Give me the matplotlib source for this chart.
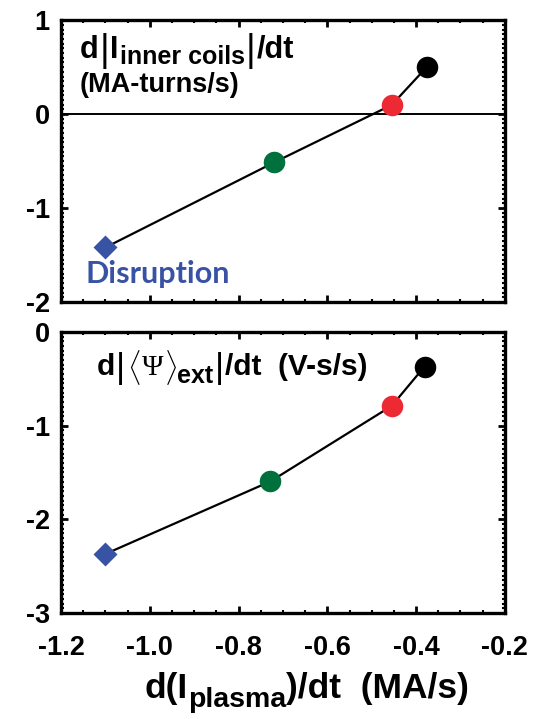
import numpy as np
import matplotlib
matplotlib.use('Agg')
import matplotlib.pyplot as plt
from matplotlib.ticker import MultipleLocator
from matplotlib.transforms import IdentityTransform

plt.rcParams['font.family'] = 'Liberation Sans'
plt.rcParams['font.weight'] = 'bold'

# d(Ip)/dt for the four cases, disruption first
x_coils = [-1.10, -0.72, -0.455, -0.376]
y_coils = [-1.42, -0.515, 0.097, 0.50]
x_flux = [-1.10, -0.728, -0.455, -0.381]
y_flux = [-2.37, -1.595, -0.79, -0.37]
colors = ['#3953a4', '#00703c', '#ed2a33', '#000000']
markers = ['D', 'o', 'o', 'o']
xticks = [-1.2, -1.0, -0.8, -0.6, -0.4, -0.2]
xticklabels = ['-1.2', '-1.0', '-0.8', '-0.6', '-0.4', '-0.2']

W, H = 542, 719
fig = plt.figure(figsize=(W / 100, H / 100), dpi=100)
ax1 = fig.add_axes([0.1125, 0.580, 0.819, 0.392])
ax2 = fig.add_axes([0.1125, 0.1474, 0.819, 0.391])
renderer = fig.canvas.get_renderer()

def style(ax, ylim, yticks):
	ax.set_xlim(-1.2, -0.2)
	ax.set_ylim(*ylim)
	ax.set_xticks(xticks)
	ax.set_yticks(yticks)
	ax.xaxis.set_minor_locator(MultipleLocator(0.05))
	ax.yaxis.set_minor_locator(MultipleLocator(0.05))
	for s in ax.spines.values():
		s.set_linewidth(2.4)
	ax.tick_params(which='both', direction='in', top=True, right=True, width=2.0)
	ax.tick_params(which='major', length=5, labelsize=19.5)
	ax.tick_params(axis='y', which='major', pad=8)
	ax.tick_params(axis='x', which='major', pad=16)
	ax.tick_params(which='minor', length=2.5, width=1.5)
	ax.set_yticklabels([str(t) for t in yticks])

def draw(ax, xs, ys):
	ax.plot(xs, ys, color='black', lw=1.6, zorder=2)
	for x, y, c, m in zip(xs, ys, colors, markers):
		ms = 12.5 if m == 'D' else 15.5
		ax.plot(x, y, marker=m, color=c, ms=ms, mec='none', zorder=3)

def rich(x, base, parts):
	# lay text pieces left to right in pixel coords; base is measured from the top
	for s, size, dy, gap, kw in parts:
		t = fig.text(x, H - (base + dy), s, fontsize=size, ha='left', va='baseline',
			transform=IdentityTransform(), **kw)
		x = t.get_window_extent(renderer).x1 + gap

style(ax1, (-2, 1), [-2, -1, 0, 1])
ax1.set_xticklabels([])
ax1.axhline(0, color='black', lw=1.4, zorder=1)
draw(ax1, x_coils, y_coils)

style(ax2, (-3, 0), [-3, -2, -1, 0])
ax2.set_xticklabels(xticklabels)
draw(ax2, x_flux, y_flux)

bold = {'fontweight': 'bold'}
bar = {'fontweight': 'normal'}
rich(80, 58, [
	('d', 22, 0, 1, bold),
	('|', 27, 3, 1, bar),
	('I', 22, 0, 1, bold),
	('inner coils', 18, 6, 1, bold),
	('|', 27, 3, 1, bar),
	('/dt', 22, 0, 0, bold),
])
rich(80, 92, [('(MA-turns/s)', 19.5, 0, 0, bold)])
rich(85, 283, [('Disruption', 22, 0, 0, {'fontweight': 'bold', 'family': 'Lato', 'color': '#3953a4'})])

rich(97, 375, [
	('d', 21.5, 0, 1, bold),
	('|', 25, 3, 2, bar),
	(r'$\langle$', 21, 3, 1, {'math_fontfamily': 'cm'}),
	('\u03a8', 21, 0, 1, {'family': 'Liberation Serif', 'fontweight': 'normal'}),
	(r'$\rangle$', 21, 3, 0, {'math_fontfamily': 'cm'}),
	('ext', 18, 8, 1, bold),
	('|', 25, 3, 1, bar),
	('/dt  (V-s/s)', 21.5, 0, 0, bold),
])

rich(145, 698, [
	('d(I', 25.5, 0, 0, bold),
	('plasma', 20.5, 9, 0, bold),
	(')/dt  (MA/s)', 25.5, 0, 0, bold),
])

fig.savefig('out.png', dpi=100)
